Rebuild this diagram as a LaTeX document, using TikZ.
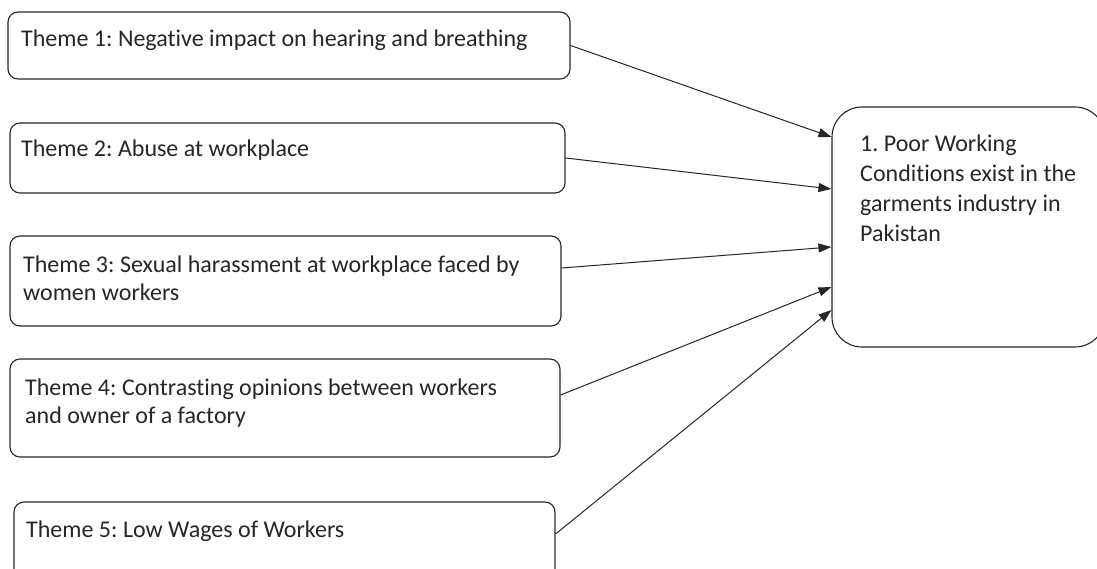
\documentclass[tikz,border=0pt]{standalone}
\usepackage{fontspec}
\setmainfont{Carlito}[RawFeature=-liga]
\usetikzlibrary{arrows.meta}
\begin{document}
\frenchspacing
\begin{tikzpicture}[x=1pt,y=1pt,
  box/.style={draw=black!85, line width=1.1pt, rounded corners=10pt, inner sep=0pt},
  txt/.style={anchor=base west, inner sep=0pt, font=\fontsize{24}{28}\selectfont, align=left, text=black!85},
  arr/.style={draw=black!85, line width=1pt, -{Triangle[length=13pt,width=9pt]}}]
\useasboundingbox (0,0) rectangle (1097,-569);
\clip (0,0) rectangle (1097,-569);
\node[box, minimum width=562pt, minimum height=67pt] (b1) at (289,-45.5) {};
\node[box, minimum width=555pt, minimum height=70pt] (b2) at (287.5,-158) {};
\node[box, minimum width=551pt, minimum height=90pt] (b3) at (285.5,-281) {};
\node[box, minimum width=550pt, minimum height=98pt] (b4) at (285,-408) {};
\node[box, minimum width=541pt, minimum height=98pt] (b5) at (284.5,-551) {};
\node[box, rounded corners=30pt, minimum width=273pt, minimum height=240pt] (R) at (968.5,-227) {};
\node[txt] (t1) at (21,-47) {Theme 1: Negative impact on hearing and breathing};
\node[txt] (t2) at (21,-157) {Theme 2: Abuse at workplace};
\node[txt] (t3) at (23,-300) {Theme 3: Sexual harassment at workplace faced by\\women workers};
\node[txt] (t4) at (25,-423) {Theme 4: Contrasting opinions between workers\\and owner of a factory};
\node[txt] (t5) at (26,-537) {Theme 5: Low Wages of Workers};
\node[txt, font=\fontsize{24}{30}\selectfont] (tr) at (860,-242) {1. Poor Working\\Conditions exist in the\\garments industry in\\Pakistan};
\draw[arr] (b1.east) -- ([yshift=90pt]R.west);
\draw[arr] (b2.east) -- ([yshift=38pt]R.west);
\draw[arr] ([yshift=13pt]b3.east) -- ([yshift=-20pt]R.west);
\draw[arr] ([yshift=13pt]b4.east) -- ([yshift=-60pt]R.west);
\draw[arr] ([yshift=17pt]b5.east) -- ([yshift=-83pt]R.west);
\end{tikzpicture}
\end{document}
